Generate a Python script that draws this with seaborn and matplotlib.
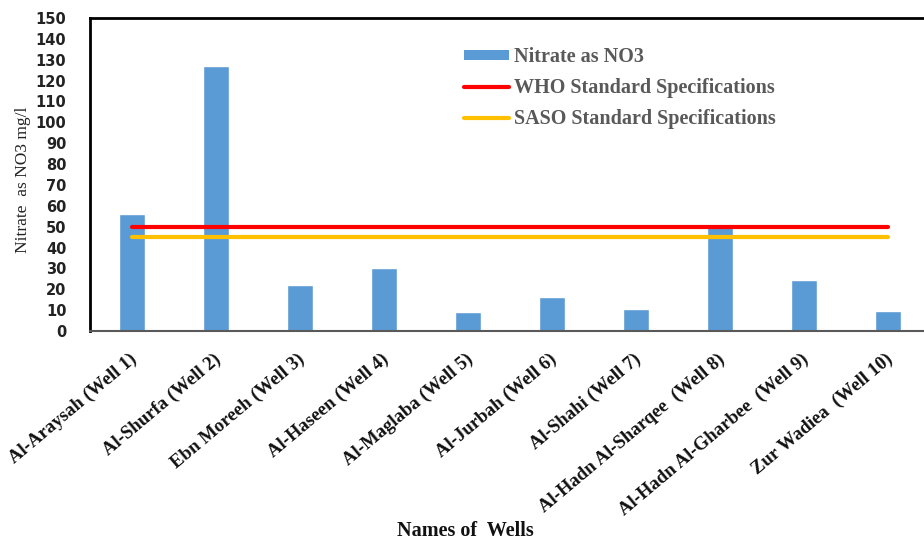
import numpy as np
import pandas as pd
import matplotlib
matplotlib.use("Agg")
import matplotlib.pyplot as plt
import matplotlib.transforms as mtransforms
from matplotlib.patches import Patch
from matplotlib.lines import Line2D
import seaborn as sns

# Nitrate concentration per well (mg/l as NO3)
wells = [
    "Al-Araysah (Well 1)",
    "Al-Shurfa (Well 2)",
    "Ebn Moreeh (Well 3)",
    "Al-Haseen (Well 4)",
    "Al-Maglaba (Well 5)",
    "Al-Jurbah (Well 6)",
    "Al-Shahi (Well 7)",
    "Al-Hadn Al-Sharqee  (Well 8)",
    "Al-Hadn Al-Gharbee  (Well 9)",
    "Zur Wadiea  (Well 10)",
]
nitrate = [56, 127, 22, 30, 9, 16.5, 10.5, 50, 24.5, 9.5]

# Drinking-water limits for nitrate (mg/l)
who_limit = [50] * len(wells)
saso_limit = [45] * len(wells)

y_ticks = list(range(0, 151, 10))

BAR = "#5B9BD5"
RED = "#FF0000"
GOLD = "#FFC000"

sns.set_theme(style="white")
plt.rcParams["font.family"] = ["DejaVu Sans"]

fig = plt.figure(figsize=(9.24, 5.42), dpi=100)
ax = fig.add_axes([90 / 924, 1 - 331 / 542, 840 / 924, 313 / 542])

df = pd.DataFrame({"well": wells, "nitrate": nitrate})
sns.barplot(data=df, x="well", y="nitrate", color=BAR, saturation=1,
            width=0.31, ax=ax, zorder=2)

pos = np.arange(len(wells))
sns.lineplot(x=pos, y=who_limit, color=RED, lw=3, ax=ax, zorder=3)
sns.lineplot(x=pos, y=saso_limit, color=GOLD, lw=3, ax=ax, zorder=3)

ax.set_xlim(-0.5, len(wells) - 0.5)
ax.set_ylim(0, 150)
ax.set_yticks(y_ticks)
ax.set_yticklabels([str(t) for t in y_ticks], fontsize=10.5,
                   fontweight="bold", color="#222222")
ax.tick_params(axis="y", length=0, pad=17)
ax.tick_params(axis="x", length=0, pad=14)

ax.set_xticks(pos)
ax.set_xticklabels(wells, rotation=40, ha="right", va="top",
                   rotation_mode="anchor", family="Liberation Serif",
                   fontweight="bold", fontsize=13.5, color="#111111")
shift = mtransforms.ScaledTranslation(-3 / 100, 0, fig.dpi_scale_trans)
for lbl in ax.get_xticklabels():
    lbl.set_transform(lbl.get_transform() + shift)

ax.set_xlabel("Names of  Wells", family="Liberation Serif", fontweight="bold",
              fontsize=14.5, color="#111111")
ax.xaxis.set_label_coords(375 / 840, -(521 - 331) / 313)
ax.set_ylabel("Nitrate  as NO3 mg/l", family="Liberation Serif",
              fontsize=12.5, color="#222222")
ax.yaxis.set_label_coords(-(90 - 31) / 840, (331 - 180) / 313)

for side in ["top", "left"]:
    ax.spines[side].set_color("black")
    ax.spines[side].set_linewidth(2)
ax.spines["bottom"].set_color("#595959")
ax.spines["bottom"].set_linewidth(1.5)
ax.spines["right"].set_visible(False)

handles = [
    Patch(facecolor=BAR, edgecolor="none"),
    Line2D([0], [0], color=RED, lw=3, solid_capstyle="round"),
    Line2D([0], [0], color=GOLD, lw=3, solid_capstyle="round"),
]
labels = ["Nitrate as NO3", "WHO Standard Specifications",
          "SASO Standard Specifications"]
leg = fig.legend(handles, labels, loc="upper left",
                 bbox_to_anchor=(464 / 924, 1 - 47 / 542),
                 frameon=False, borderpad=0, borderaxespad=0,
                 handlelength=2.24, handleheight=0.37, handletextpad=0.25,
                 labelspacing=0.54,
                 prop={"family": "Liberation Serif", "weight": "bold",
                       "size": 14.5})
for t in leg.get_texts():
    t.set_color("#595959")

fig.savefig("out.png", dpi=100)
